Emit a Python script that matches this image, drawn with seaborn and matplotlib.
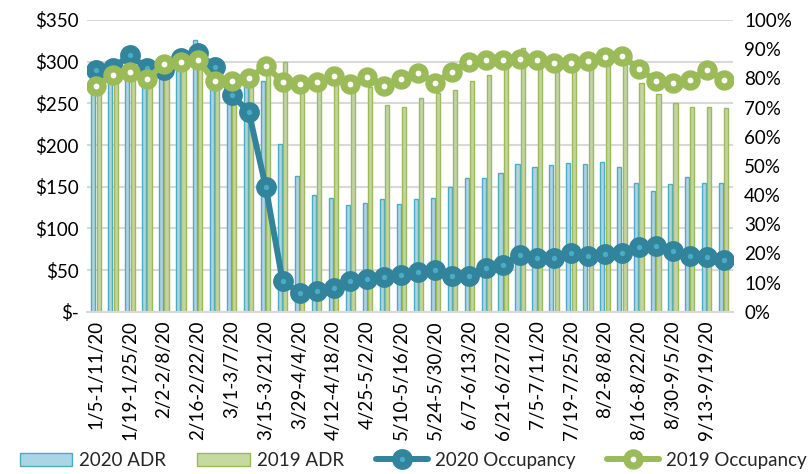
import numpy as np
import pandas as pd
import matplotlib
matplotlib.use("Agg")
import matplotlib.pyplot as plt
import seaborn as sns
from matplotlib.lines import Line2D
from matplotlib.patches import Patch

weeks = ["1/5-1/11/20", "1/12-1/18/20", "1/19-1/25/20", "1/26-2/1/20", "2/2-2/8/20",
         "2/9-2/15/20", "2/16-2/22/20", "2/23-2/29/20", "3/1-3/7/20", "3/8-3/14/20",
         "3/15-3/21/20", "3/22-3/28/20", "3/29-4/4/20", "4/5-4/11/20", "4/12-4/18/20",
         "4/19-4/25/20", "4/25-5/2/20", "5/3-5/9/20", "5/10-5/16/20", "5/17-5/23/20",
         "5/24-5/30/20", "5/31-6/6/20", "6/7-6/13/20", "6/14-6/20/20", "6/21-6/27/20",
         "6/28-7/4/20", "7/5-7/11/20", "7/12-7/18/20", "7/19-7/25/20", "7/26-8/1/20",
         "8/2-8/8/20", "8/9-8/15/20", "8/16-8/22/20", "8/23-8/29/20", "8/30-9/5/20",
         "9/6-9/12/20", "9/13-9/19/20", "9/20-9/26/20"]

adr_2020 = [295, 292, 298, 290, 300, 305, 326, 300, 285, 270, 277, 201, 163, 140, 136,
            128, 131, 135, 129, 135, 136, 150, 160, 160, 166, 177, 174, 176, 178, 177,
            180, 174, 154, 145, 153, 162, 154, 155]
adr_2019 = [285, 283, 290, 280, 295, 300, 305, 280, 275, 278, 290, 300, 280, 278, 282,
            275, 270, 248, 246, 256, 262, 266, 277, 284, 300, 316, 305, 300, 300, 300,
            305, 300, 274, 261, 250, 246, 246, 244]
occ_2020 = [82.9, 83.5, 88.0, 83.4, 82.9, 86.9, 88.6, 84.0, 74.3, 68.6, 42.9, 10.5, 6.6,
            7.1, 8.3, 10.5, 11.2, 11.8, 12.5, 13.5, 14.3, 12.3, 12.3, 15.0, 16.2, 19.4,
            18.6, 18.6, 20.3, 19.2, 19.8, 20.0, 22.3, 22.6, 20.9, 19.2, 18.9, 17.8]
occ_2019 = [77.4, 81.2, 82.3, 79.7, 84.9, 85.5, 86.3, 79.0, 79.1, 80.0, 84.2, 78.9, 78.2,
            78.6, 80.8, 78.1, 80.5, 77.4, 79.7, 81.7, 78.5, 82.3, 85.7, 86.3, 86.1, 86.5,
            86.1, 85.2, 85.4, 86.0, 87.4, 87.7, 83.2, 79.2, 78.5, 79.4, 82.9, 79.4]

left_ticks = [0, 50, 100, 150, 200, 250, 300, 350]
left_labels = ["$-", "$50", "$100", "$150", "$200", "$250", "$300", "$350"]
right_ticks = [0, 10, 20, 30, 40, 50, 60, 70, 80, 90, 100]
right_labels = ["0%", "10%", "20%", "30%", "40%", "50%", "60%", "70%", "80%", "90%", "100%"]

BLUE_FILL, BLUE_EDGE = "#a9d5e5", "#4bacc6"
GREEN_FILL, GREEN_EDGE = "#c6da9f", "#9bbb59"
TEAL = "#31849b"

sns.set_theme(style="white")
plt.rcParams["font.family"] = ["Lato", "DejaVu Sans"]
FS = 13.5

df = pd.DataFrame({
    "week": weeks * 2,
    "adr": adr_2020 + adr_2019,
    "series": ["2020 ADR"] * len(weeks) + ["2019 ADR"] * len(weeks),
})

fig = plt.figure(figsize=(8.10, 4.74), dpi=100)
ax = fig.add_axes([0.107, 0.342, 0.798, 0.616])

sns.barplot(data=df, x="week", y="adr", hue="series", order=weeks,
            hue_order=["2020 ADR", "2019 ADR"],
            palette={"2020 ADR": BLUE_FILL, "2019 ADR": GREEN_FILL},
            width=0.62, gap=0.22, ax=ax, legend=False, errorbar=None)
for p in ax.patches[:len(weeks)]:
    p.set_edgecolor(BLUE_EDGE); p.set_linewidth(1.0)
for p in ax.patches[len(weeks):2 * len(weeks)]:
    p.set_edgecolor(GREEN_EDGE); p.set_linewidth(1.0)

ax.set_ylim(0, 350)
ax.set_xlim(-0.55, len(weeks) - 0.45)
ax.set_yticks(left_ticks)
ax.set_yticklabels(left_labels, fontsize=FS)
ax.yaxis.grid(True, color="#d9d9d9", linewidth=1.5)
ax.set_axisbelow(True)
ax.set_xticks(range(0, len(weeks), 2))
ax.set_xticklabels(weeks[::2], rotation=90, fontsize=FS, va="top", ha="center")
ax.set_xlabel(""); ax.set_ylabel("")
for s in ["top", "right", "left"]:
    ax.spines[s].set_visible(False)
ax.spines["bottom"].set_color("#d9d9d9")
ax.spines["bottom"].set_linewidth(1.5)
ax.tick_params(axis="both", length=0, pad=6, colors="black")

ax2 = ax.twinx()
x = np.arange(len(weeks))
ax2.plot(x, occ_2020, color=TEAL, lw=4.3, marker="o", ms=9.5, mew=5.5,
         mec=TEAL, mfc=BLUE_EDGE, zorder=3)
ax2.plot(x, occ_2019, color=GREEN_EDGE, lw=4.3, marker="o", ms=9.5, mew=5.2,
         mec=GREEN_EDGE, mfc="white", zorder=4)
ax2.set_ylim(0, 100)
ax2.set_yticks(right_ticks)
ax2.set_yticklabels(right_labels, fontsize=FS)
for s in ["top", "right", "left", "bottom"]:
    ax2.spines[s].set_visible(False)
ax2.tick_params(axis="y", length=0, pad=8, colors="black")
ax2.grid(False)
ax2.set_xlim(ax.get_xlim())

handles = [
    Patch(facecolor=BLUE_FILL, edgecolor=BLUE_EDGE, label="2020 ADR"),
    Patch(facecolor=GREEN_FILL, edgecolor=GREEN_EDGE, label="2019 ADR"),
    Line2D([0], [0], color=TEAL, lw=4.3, marker="o", ms=9.5, mew=5.5, mec=TEAL,
           mfc=BLUE_EDGE, label="2020 Occupancy"),
    Line2D([0], [0], color=GREEN_EDGE, lw=4.3, marker="o", ms=9.5, mew=5.2,
           mec=GREEN_EDGE, mfc="white", label="2019 Occupancy"),
]
fig.legend(handles=handles, loc="lower center", bbox_to_anchor=(0.51, -0.025), ncol=4,
           frameon=False, fontsize=FS, handlelength=2.8, handleheight=0.75,
           columnspacing=1.7, handletextpad=0.35)

fig.savefig("out.png", dpi=100)
